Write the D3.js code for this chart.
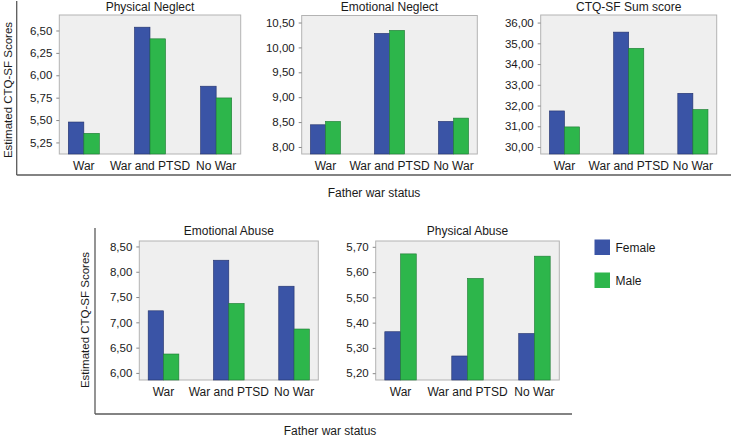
<!DOCTYPE html>
<html><head><meta charset="utf-8">
<script src="https://cdn.jsdelivr.net/npm/d3@7"></script>
<style>
html,body{margin:0;padding:0;background:#fff;}
text{font-family:"Liberation Sans",Arial,sans-serif;fill:#1a1a1a;}
</style></head>
<body><svg id="c" width="731" height="437"></svg>
<script>
const categories = ["War", "War and PTSD", "No War"];
const genders = ["Female", "Male"];
const titles = ["Physical Neglect", "Emotional Neglect", "CTQ-SF Sum score", "Emotional Abuse", "Physical Abuse"];

const physicalNeglectFemale = [5.478, 6.537, 5.878];
const physicalNeglectMale   = [5.352, 6.407, 5.747];
const emotionalNeglectFemale = [8.446, 10.282, 8.514];
const emotionalNeglectMale   = [8.514, 10.343, 8.580];
const sumScoreFemale = [31.74, 35.54, 32.59];
const sumScoreMale   = [30.97, 34.76, 31.81];
const emotionalAbuseFemale = [7.228, 8.228, 7.714];
const emotionalAbuseMale   = [6.374, 7.374, 6.868];
const physicalAbuseFemale = [5.364, 5.268, 5.357];
const physicalAbuseMale   = [5.672, 5.575, 5.663];

const physicalNeglectTicks = [5.25, 5.50, 5.75, 6.00, 6.25, 6.50];
const emotionalNeglectTicks = [8.00, 8.50, 9.00, 9.50, 10.00, 10.50];
const sumScoreTicks = [30, 31, 32, 33, 34, 35, 36];
const emotionalAbuseTicks = [6.00, 6.50, 7.00, 7.50, 8.00, 8.50];
const physicalAbuseTicks = [5.20, 5.30, 5.40, 5.50, 5.60, 5.70];

const physicalNeglectDomain = [5.121, 6.673];
const emotionalNeglectDomain = [7.859, 10.641];
const sumScoreDomain = [29.664, 36.365];
const emotionalAbuseDomain = [5.86, 8.608];
const physicalAbuseDomain = [5.173, 5.723];

const yTitle = "Estimated CTQ-SF Scores";
const xTitle = "Father war status";

const colors = {Female: "#3a54a6", Male: "#2db64b"};
const strokes = {Female: "#22306a", Male: "#1d7a33"};

const svg = d3.select("#c");
const fmt = v => v.toFixed(2).replace(".", ",");

const panels = [
  {title: titles[0], f: physicalNeglectFemale, m: physicalNeglectMale, ticks: physicalNeglectTicks, dom: physicalNeglectDomain, box: [59.3, 15, 240.7, 154]},
  {title: titles[1], f: emotionalNeglectFemale, m: emotionalNeglectMale, ticks: emotionalNeglectTicks, dom: emotionalNeglectDomain, box: [301.7, 15.5, 477.3, 154]},
  {title: titles[2], f: sumScoreFemale, m: sumScoreMale, ticks: sumScoreTicks, dom: sumScoreDomain, box: [540.7, 15, 716.7, 154]},
  {title: titles[3], f: emotionalAbuseFemale, m: emotionalAbuseMale, ticks: emotionalAbuseTicks, dom: emotionalAbuseDomain, box: [139.3, 241, 318.3, 380]},
  {title: titles[4], f: physicalAbuseFemale, m: physicalAbuseMale, ticks: physicalAbuseTicks, dom: physicalAbuseDomain, box: [375.7, 241, 559.3, 380]}
];

panels.forEach((p, idx) => {
  const [x0, y0, x1, y1] = p.box;
  const g = svg.append("g");
  g.append("rect").attr("x", x0).attr("y", y0).attr("width", x1 - x0).attr("height", y1 - y0)
    .attr("fill", "#efefef").attr("stroke", "#b3b3b3").attr("stroke-width", 1);
  const x = d3.scaleBand().domain(categories).range([x0, x1]).paddingInner(0.53).paddingOuter(0.136);
  const xg = d3.scaleBand().domain(genders).range([0, x.bandwidth()]).padding(0);
  const y = d3.scaleLinear().domain(p.dom).range([y1, y0]);
  const rows = categories.map((c, i) => ({c, vals: [{g: "Female", v: p.f[i]}, {g: "Male", v: p.m[i]}]}));
  g.selectAll("g.grp").data(rows).join("g").attr("class", "grp")
    .attr("transform", d => `translate(${x(d.c)},0)`)
    .selectAll("rect").data(d => d.vals).join("rect")
    .attr("x", d => xg(d.g)).attr("width", xg.bandwidth())
    .attr("y", d => y(d.v)).attr("height", d => y1 - y(d.v))
    .attr("fill", d => colors[d.g]).attr("stroke", d => strokes[d.g]).attr("stroke-width", 0.6);
  const ya = d3.axisLeft(y).tickValues(p.ticks).tickFormat(fmt).tickSize(3).tickPadding(4);
  const yAx = g.append("g").attr("transform", `translate(${x0},0)`).call(ya);
  yAx.select(".domain").remove();
  yAx.selectAll("line").attr("stroke", "#888");
  yAx.selectAll("text").attr("font-size", "11.5px").attr("font-family", "Liberation Sans, Arial, sans-serif").attr("fill", "#1a1a1a");
  const xa = d3.axisBottom(x).tickSize(0).tickPadding(7);
  const xAx = g.append("g").attr("transform", `translate(0,${y1})`).call(xa);
  xAx.select(".domain").remove();
  xAx.selectAll("text").attr("font-size", "12px").attr("font-family", "Liberation Sans, Arial, sans-serif").attr("fill", "#1a1a1a");
  g.append("text").attr("x", (x0 + x1) / 2).attr("y", idx < 3 ? 11 : y0 - 6).attr("text-anchor", "middle")
    .attr("font-size", "12px").text(p.title);
});

// frames
const frame = "#5a5a5a";
svg.append("line").attr("x1", 16.7).attr("x2", 16.7).attr("y1", 1).attr("y2", 175).attr("stroke", frame).attr("stroke-width", 1.3);
svg.append("line").attr("x1", 16.7).attr("x2", 731).attr("y1", 175).attr("y2", 175).attr("stroke", frame).attr("stroke-width", 1.3);
svg.append("line").attr("x1", 95).attr("x2", 95).attr("y1", 228).attr("y2", 414).attr("stroke", frame).attr("stroke-width", 1.3);
svg.append("line").attr("x1", 95).attr("x2", 572).attr("y1", 414).attr("y2", 414).attr("stroke", frame).attr("stroke-width", 1.3);

// axis titles
svg.append("text").attr("transform", "translate(12,90) rotate(-90)").attr("text-anchor", "middle")
  .attr("font-size", "11.5px").text(yTitle);
svg.append("text").attr("transform", "translate(88.5,320) rotate(-90)").attr("text-anchor", "middle")
  .attr("font-size", "11.5px").text(yTitle);
svg.append("text").attr("x", 374).attr("y", 197).attr("text-anchor", "middle").attr("font-size", "12px").text(xTitle);
svg.append("text").attr("x", 330).attr("y", 435).attr("text-anchor", "middle").attr("font-size", "12px").text(xTitle);

// legend
const lg = svg.append("g");
genders.forEach((gname, i) => {
  lg.append("rect").attr("x", 594.5).attr("y", 239.5 + i * 33).attr("width", 15.5).attr("height", 15.5)
    .attr("fill", colors[gname]);
  lg.append("text").attr("x", 615.5).attr("y", 251.8 + i * 33).attr("font-size", "12px").text(gname);
});
</script></body></html>
